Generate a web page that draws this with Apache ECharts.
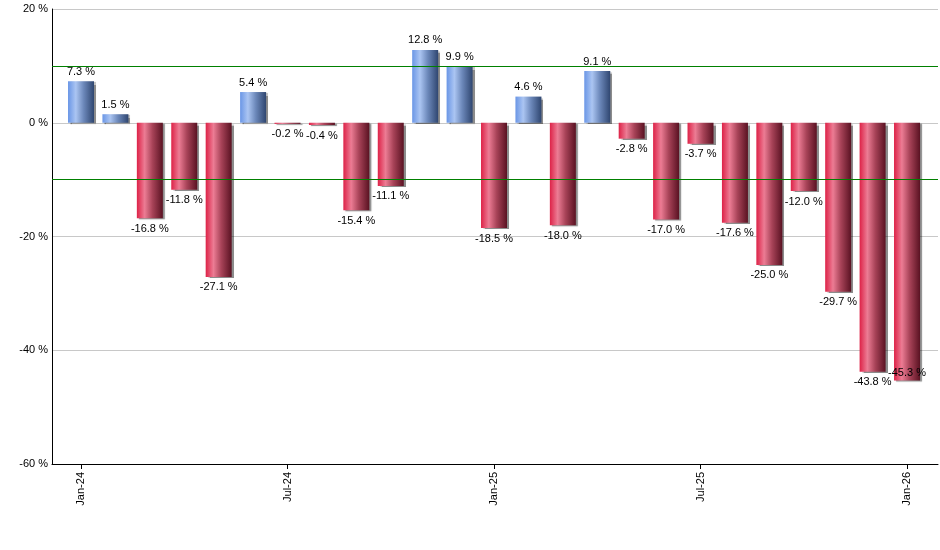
<!doctype html>
<html>
<head>
<meta charset="utf-8">
<title>Monthly change</title>
<script src="https://cdn.jsdelivr.net/npm/echarts@6/dist/echarts.min.js"></script>
<style>
  html, body { margin: 0; padding: 0; background: #fff; }
  #chart { width: 940px; height: 550px; }
</style>
</head>
<body>
<div id="chart"></div>
<script type="text/javascript">

var months = ['Jan-24', 'Feb-24', 'Mar-24', 'Apr-24', 'May-24', 'Jun-24', 'Jul-24', 'Aug-24', 'Sep-24',
    'Oct-24', 'Nov-24', 'Dec-24', 'Jan-25', 'Feb-25', 'Mar-25', 'Apr-25', 'May-25', 'Jun-25',
    'Jul-25', 'Aug-25', 'Sep-25', 'Oct-25', 'Nov-25', 'Dec-25', 'Jan-26'];
var values = [7.3, 1.5, -16.8, -11.8, -27.1, 5.4, -0.2, -0.4, -15.4, -11.1, 12.8, 9.9, -18.5,
    4.6, -18.0, 9.1, -2.8, -17.0, -3.7, -17.6, -25.0, -12.0, -29.7, -43.8, -45.3];
var yTicks = [-60, -40, -20, 0, 20];
var xTickIdx = [0, 6, 12, 18, 24];
var bandLines = [10, -10];

var chart = echarts.init(document.getElementById('chart'));
var font = 'Liberation Sans, Arial, sans-serif';

var blueFill = new echarts.graphic.LinearGradient(0, 0, 1, 0, [
    {offset: 0, color: '#6a96e6'},
    {offset: 0.3, color: '#abc5f2'},
    {offset: 0.6, color: '#6c88ba'},
    {offset: 1, color: '#2f4670'}
]);
var redFill = new echarts.graphic.LinearGradient(0, 0, 1, 0, [
    {offset: 0, color: '#dd2247'},
    {offset: 0.3, color: '#ec7c94'},
    {offset: 0.6, color: '#a84358'},
    {offset: 1, color: '#5a1222'}
]);

var data = values.map(function (v, i) {
    var item = {
        value: [i, v],
        itemStyle: {color: v >= 0 ? blueFill : redFill},
        label: {position: v >= 0 ? 'top' : 'bottom', distance: v >= 0 ? 4 : 5}
    };
    // last label sits inside the bar foot, like the original
    if (i === values.length - 1) {
        item.label = {position: 'insideBottom', distance: 2};
    }
    return item;
});

var option = {
    animation: false,
    backgroundColor: '#fff',
    grid: {left: 52, right: 2, top: 9, bottom: 86},
    xAxis: {
        type: 'value',
        min: -0.843,
        max: 24.9,
        splitLine: {show: false},
        axisLine: {show: true, onZero: false, lineStyle: {color: '#000', width: 1}},
        axisTick: {show: true, length: 5, lineStyle: {color: '#000'}, customValues: xTickIdx},
        axisLabel: {
            rotate: 90,
            color: '#000',
            fontFamily: font,
            fontSize: 11,
            margin: 8,
            customValues: xTickIdx,
            formatter: function (v) { return months[Math.round(v)]; }
        }
    },
    yAxis: {
        type: 'value',
        min: yTicks[0],
        max: yTicks[yTicks.length - 1],
        interval: 20,
        axisLine: {show: true, onZero: false, lineStyle: {color: '#000', width: 1}},
        axisTick: {show: false},
        axisLabel: {color: '#000', fontFamily: font, fontSize: 11, margin: 4, formatter: '{value} %'},
        splitLine: {show: true, lineStyle: {color: '#c8c8c8', width: 1}}
    },
    series: [{
        type: 'bar',
        barWidth: 26,
        data: data,
        itemStyle: {
            shadowColor: 'rgba(0,0,0,0.45)',
            shadowOffsetX: 2,
            shadowOffsetY: 1,
            shadowBlur: 1
        },
        label: {
            show: true,
            color: '#000',
            fontFamily: font,
            fontSize: 11,
            formatter: function (p) { return p.value[1].toFixed(1) + ' %'; }
        },
        markLine: {
            silent: true,
            symbol: 'none',
            label: {show: false},
            lineStyle: {color: '#008000', type: 'solid', width: 1},
            data: bandLines.map(function (y) { return {yAxis: y}; })
        }
    }]
};

chart.setOption(option);

</script>
</body>
</html>
